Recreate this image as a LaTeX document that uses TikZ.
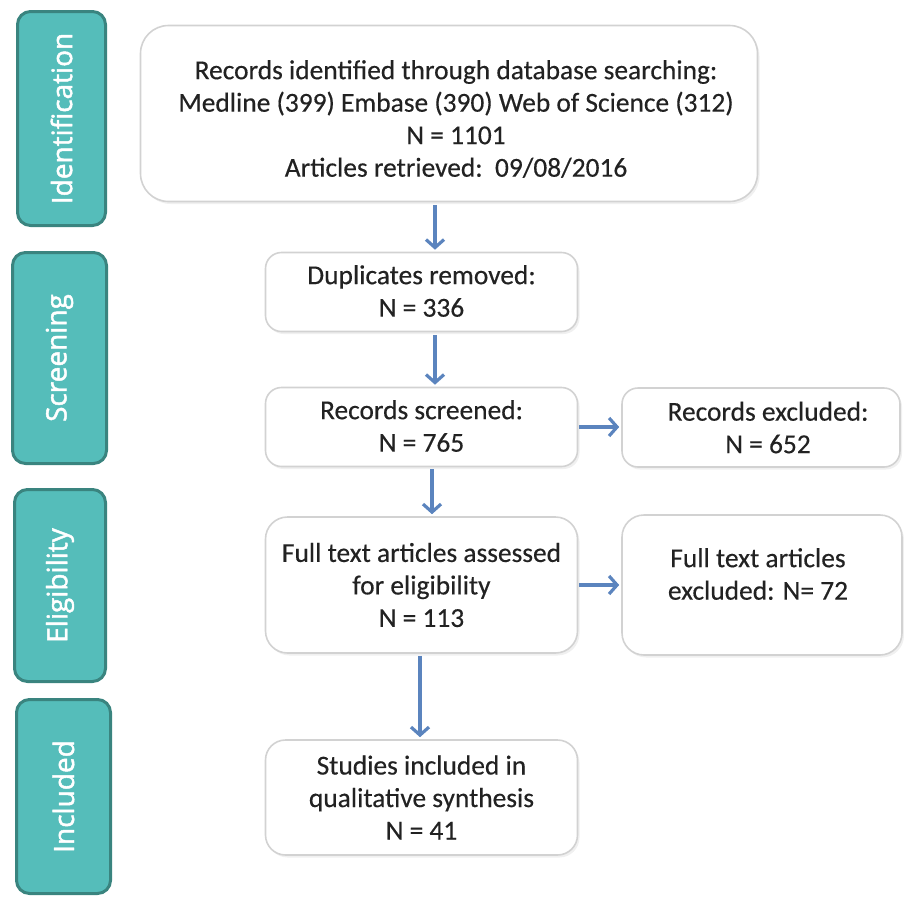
\documentclass[tikz,border=0pt]{standalone}
\usepackage{fontspec}
\setmainfont{Carlito}[FakeBold=0.35]
\newfontfamily\sidefont{Open Sans}[FakeBold=1.6]
\usetikzlibrary{arrows.meta,shadows}
\definecolor{sidefill}{HTML}{55BDBA}
\definecolor{sideline}{HTML}{3A847F}
\definecolor{boxline}{HTML}{D2D2D2}
\definecolor{arrowc}{HTML}{5B84BE}
\definecolor{txt}{HTML}{222222}
\tikzset{
  sidebox/.style={draw=sideline, fill=sidefill, line width=3pt, rounded corners=13pt,
    inner sep=0pt, text=white, font=\sidefont\fontsize{28}{32}\selectfont, rotate=90},
  flowbox/.style={draw=boxline, fill=white, line width=1.6pt, rounded corners=16pt,
    inner sep=0pt, drop shadow={opacity=0.12, shadow xshift=2pt, shadow yshift=-2.5pt}},
  flowtext/.style={align=center, inner sep=0pt, text=txt, font=\fontsize{27.4}{32.5}\selectfont},
  arr/.style={draw=arrowc, line width=3.4pt, -{Straight Barb[length=8pt,width=18pt,line width=3.2pt]}}
}
\begin{document}
\begin{tikzpicture}[x=1pt,y=-1pt]
\useasboundingbox (0,0) rectangle (904,897);
% side labels
\node[sidebox, minimum width=214pt, minimum height=88pt] (sid) at (61.5,118.5) {Identification};
\node[sidebox, minimum width=211pt, minimum height=94pt] (sscr) at (59.5,358) {Screening};
\node[sidebox, minimum width=192pt, minimum height=91pt] (sel) at (60,585.5) {Eligibility};
\node[sidebox, minimum width=194pt, minimum height=94pt] (sinc) at (63.5,796.5) {Included};
% flow boxes
\node[flowbox, rounded corners=28pt, minimum width=617pt, minimum height=176pt] (b1) at (449,113.5) {};
\node[flowtext] (t1) at (456,119) {Records identified through database searching:\\Medline (399) Embase (390) Web of Science (312)\\N = 1101\\Articles retrieved:\ \ 09/08/2016};
\node[flowbox, minimum width=312pt, minimum height=79pt] (b2) at (421.5,292) {};
\node[flowtext] (t2) at ([yshift=1pt]b2.center) {Duplicates removed:\\N = 336};
\node[flowbox, minimum width=312pt, minimum height=79pt] (b3) at (421.5,427) {};
\node[flowtext] (t3) at ([yshift=1pt]b3.center) {Records screened:\\N = 765};
\node[flowbox, minimum width=278pt, minimum height=79pt] (b4) at (761,427.5) {};
\node[flowtext] (t4) at ([xshift=7pt]b4.center) {Records excluded:\\N = 652};
\node[flowbox, rounded corners=22pt, minimum width=312pt, minimum height=136pt] (b5) at (421.5,585) {};
\node[flowtext] (t5) at (b5.center) {Full text articles assessed\\for eligibility\\N = 113};
\node[flowbox, rounded corners=22pt, minimum width=280pt, minimum height=140pt] (b6) at (762,585) {};
\node[flowtext] (t6) at ([xshift=-4pt,yshift=11pt]b6.center) {Full text articles\\excluded: N= 72};
\node[flowbox, rounded corners=20pt, minimum width=312pt, minimum height=115pt] (b7) at (421.5,797.5) {};
\node[flowtext] (t7) at (b7.center) {Studies included in\\qualitative synthesis\\N = 41};
% arrows
\draw[arr, shorten <=3pt, shorten >=2pt] ([xshift=-14pt]b1.south) -- ([xshift=13.5pt]b2.north);
\draw[arr, shorten <=3pt, shorten >=2pt] ([xshift=13.5pt]b2.south) -- ([xshift=13.5pt]b3.north);
\draw[arr, shorten <=2pt, shorten >=2pt] ([xshift=10.5pt]b3.south) -- ([xshift=10.5pt]b5.north);
\draw[arr, shorten <=2pt, shorten >=2pt] ([xshift=-1.5pt]b5.south) -- ([xshift=-1.5pt]b7.north);
\draw[arr, shorten <=1pt, shorten >=2pt] (b3.east) -- (b3.east -| b4.west);
\draw[arr, shorten <=1pt, shorten >=2pt] (b5.east) -- (b5.east -| b6.west);
\end{tikzpicture}
\end{document}
